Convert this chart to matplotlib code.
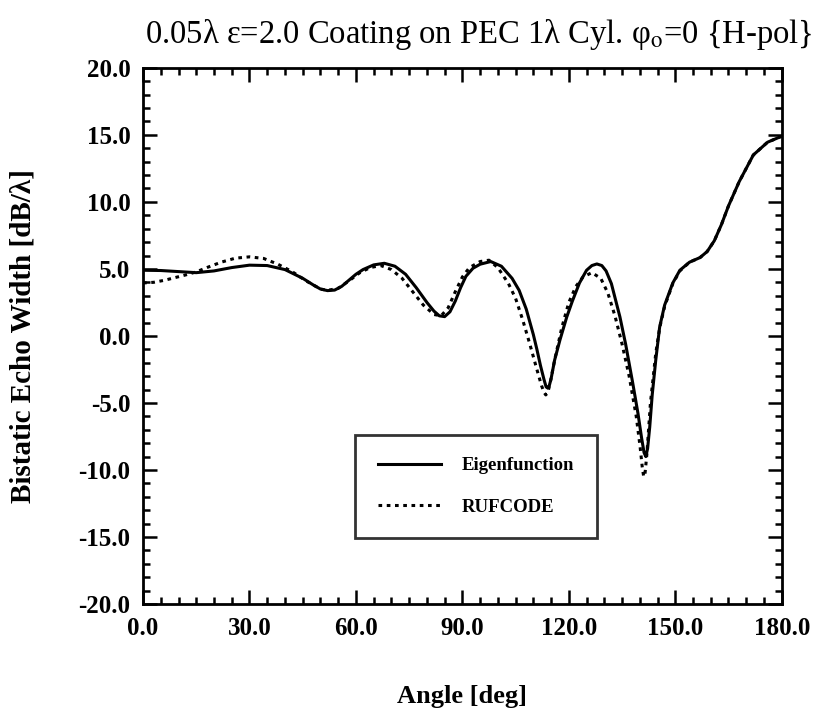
"""Bistatic echo width of a coated PEC cylinder — eigenfunction vs RUFCODE."""
import matplotlib
matplotlib.use("Agg")
import matplotlib.pyplot as plt
from matplotlib.ticker import MultipleLocator, FormatStrFormatter

plt.rcParams["font.family"] = ["Liberation Serif", "DejaVu Serif"]
plt.rcParams["mathtext.fontset"] = "stix"
plt.rcParams["axes.unicode_minus"] = False

# Eigenfunction (solid)
eig_deg = [0, 5, 10, 15, 20, 25, 30, 35, 40, 45, 48, 50, 52, 54, 56, 58, 60, 62,
           65, 68, 71, 74, 77, 80, 82, 83.5, 85, 86.5, 88, 89.5, 91, 93, 95, 98,
           101, 104, 106, 108, 110, 111, 112, 113, 113.6, 114, 114.5, 115, 116,
           117.5, 119.4, 121, 123, 125, 126.5, 127.9, 129.3, 130.5, 132, 134.4,
           136, 138, 139.5, 140.5, 141.2, 141.7, 142.2, 142.8, 143.5, 144.5,
           145.6, 147, 149.3, 151.3, 154, 157, 159, 161, 163, 165, 168, 172,
           176, 180]
eig_db = [4.9, 4.88, 4.8, 4.72, 4.85, 5.1, 5.28, 5.25, 4.95, 4.3, 3.8, 3.5, 3.38,
          3.42, 3.7, 4.15, 4.6, 4.95, 5.3, 5.42, 5.2, 4.6, 3.6, 2.5, 1.85, 1.5,
          1.44, 1.8, 2.6, 3.6, 4.45, 5.05, 5.35, 5.55, 5.2, 4.3, 3.4, 2.0, 0.1,
          -1.0, -2.2, -3.25, -3.8, -3.88, -3.7, -3.2, -1.8, -0.3, 1.4, 2.6, 3.95,
          4.9, 5.25, 5.37, 5.25, 4.85, 3.9, 1.42, -0.6, -3.5, -5.8, -7.6, -8.7,
          -9.0, -8.4, -6.8, -4.4, -1.8, 0.67, 2.3, 3.95, 4.9, 5.5, 5.85, 6.3,
          7.1, 8.3, 9.7, 11.5, 13.5, 14.45, 14.9]

# RUFCODE (dotted)
ruf_deg = [0, 3, 6, 9, 12, 15, 18, 22, 26, 30, 34, 38, 42, 46, 50, 52, 55, 58, 61,
           64, 67, 70, 73, 76, 79, 82, 84, 86, 88, 90, 92, 95, 97.5, 100, 103, 105,
           107, 109, 111, 112.3, 113, 113.5, 114, 114.6, 116, 118, 120, 122, 124,
           126.5, 129, 131, 133, 135, 137, 139, 140.1, 140.7, 141.1, 141.5, 142,
           143, 144.5, 145.6, 147, 149.3, 151.3, 154, 157, 159, 161, 163, 165,
           168, 172, 176, 180]
ruf_db = [3.95, 4.0, 4.15, 4.35, 4.55, 4.78, 5.1, 5.5, 5.8, 5.9, 5.78, 5.35, 4.8,
          4.1, 3.5, 3.4, 3.55, 4.1, 4.7, 5.1, 5.25, 4.95, 4.3, 3.3, 2.3, 1.6, 1.5,
          2.1, 3.3, 4.4, 5.1, 5.55, 5.65, 5.1, 3.9, 2.8, 1.2, -0.6, -2.5, -3.7,
          -4.2, -4.4, -4.25, -3.7, -1.8, 0.6, 2.5, 3.7, 4.4, 4.72, 4.3, 3.2, 1.5,
          -0.6, -3.0, -6.0, -8.3, -9.8, -10.5, -10.2, -8.8, -5.0, -1.3, 0.6,
          2.2, 3.9, 4.85, 5.5, 5.85, 6.3, 7.1, 8.3, 9.7, 11.5, 13.5, 14.45, 14.9]

fig = plt.figure(figsize=(8.22, 7.14), dpi=100)
ax = fig.add_axes([0.174, 0.154, 0.777, 0.751])

ax.plot(eig_deg, eig_db, color="black", lw=2.2, label="Eigenfunction")
ax.plot(ruf_deg, ruf_db, color="black", lw=2.2, ls=(0, (1.2, 1.5)),
        label="RUFCODE")

ax.set_xlim(0, 180)
ax.set_ylim(-20, 20)
ax.xaxis.set_major_locator(MultipleLocator(30))
ax.xaxis.set_minor_locator(MultipleLocator(5))
ax.yaxis.set_major_locator(MultipleLocator(5))
ax.yaxis.set_minor_locator(MultipleLocator(1))
ax.xaxis.set_major_formatter(FormatStrFormatter("%.1f"))
ax.yaxis.set_major_formatter(FormatStrFormatter("%.1f"))
ax.tick_params(which="both", direction="in", top=True, right=True, width=1.8)
ax.tick_params(which="major", length=10, labelsize=18, pad=9)
ax.tick_params(which="minor", length=5)
for lab in ax.get_xticklabels() + ax.get_yticklabels():
    lab.set_fontweight("bold")
for sp in ax.spines.values():
    sp.set_linewidth(2.0)

ax.set_xlabel("Angle [deg]", fontsize=19, fontweight="bold", labelpad=33)
ax.set_ylabel("Bistatic Echo Width [dB/λ]", fontsize=21, fontweight="bold",
              labelpad=30)
fig.text(0.583, 0.951, r"0.05λ ε=2.0 Coating on PEC 1λ Cyl. φ$_{\rm o}$=0 {H-pol}",
         fontsize=23.5, ha="center", va="center")

leg = ax.legend(loc="upper left", bbox_to_anchor=(0.332, 0.316),
                prop={"weight": "bold", "size": 13.5},
                frameon=True, fancybox=False, edgecolor="black",
                handlelength=3.4, handletextpad=1.1, borderpad=1.2,
                labelspacing=1.3, borderaxespad=0)
leg.get_frame().set_linewidth(2.0)

fig.savefig("out.png", dpi=100)
